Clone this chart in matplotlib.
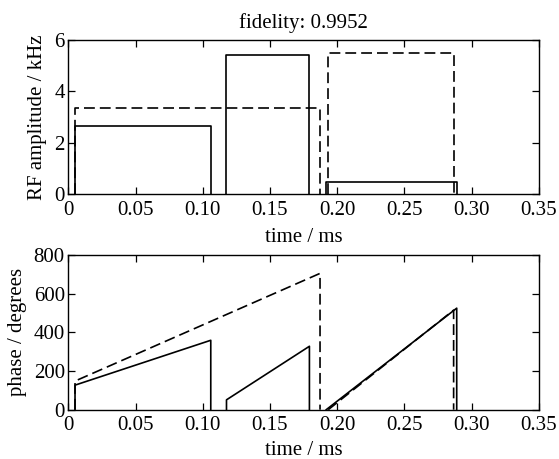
import numpy as np
import matplotlib
matplotlib.use('Agg')
import matplotlib.pyplot as plt

plt.rcParams['font.family'] = ['Liberation Serif', 'DejaVu Serif']
plt.rcParams['mathtext.fontset'] = 'stix'

# pulse timings (ms) and RF amplitudes (kHz)
solid_start = [0.005, 0.1177, 0.1919]
solid_end = [0.106, 0.1794, 0.289]
solid_amp = [2.64, 5.40, 0.47]
dash_start = [0.005, 0.1934]
dash_end = [0.1873, 0.2867]
dash_amp = [3.36, 5.51]

# phase at start and end of each pulse (degrees)
solid_ph0 = [127, 51, 0]
solid_ph1 = [359, 328, 525]
dash_ph0 = [148, 0]
dash_ph1 = [705, 515]

fidelity = 0.9952
xticks = [0, 0.05, 0.10, 0.15, 0.20, 0.25, 0.30, 0.35]
xticklabels = ['0', '0.05', '0.10', '0.15', '0.20', '0.25', '0.30', '0.35']


def steps(t0, t1, y0, y1):
    # build a zig-zag trace: jump up at start, ramp to end, drop back to zero
    xs, ys = [], []
    for a, b, c, d in zip(t0, t1, y0, y1):
        xs += [a, a, b, b, np.nan]
        ys += [0, c, d, 0, np.nan]
    return xs, ys


W, H = 559, 459
fig = plt.figure(figsize=(W / 100, H / 100), dpi=100)
ax1 = fig.add_axes([68.3 / W, 1 - 194.3 / H, 470.4 / W, 154.3 / H])
ax2 = fig.add_axes([68.3 / W, 1 - 409.7 / H, 470.4 / W, 154.7 / H])

fs = 15

x, y = steps(solid_start, solid_end, solid_amp, solid_amp)
ax1.plot(x, y, 'k-', lw=1.2)
x, y = steps(dash_start, dash_end, dash_amp, dash_amp)
ax1.plot(x, y, 'k--', lw=1.2, dashes=(6.5, 3))
ax1.set_ylim(0, 6)
ax1.set_yticks([0, 2, 4, 6])
ax1.set_ylabel('RF amplitude / kHz', fontsize=fs, labelpad=5)
ax1.set_title('fidelity: %.4f' % fidelity, fontsize=fs, pad=8.5)

x, y = steps(solid_start, solid_end, solid_ph0, solid_ph1)
ax2.plot(x, y, 'k-', lw=1.2)
x, y = steps(dash_start, dash_end, dash_ph0, dash_ph1)
ax2.plot(x, y, 'k--', lw=1.2, dashes=(6.5, 3))
ax2.set_ylim(0, 800)
ax2.set_yticks([0, 200, 400, 600, 800])
ax2.set_ylabel('phase / degrees', fontsize=fs, labelpad=5)

ax1.set_xlabel('time / ms', fontsize=fs, labelpad=6)
ax2.set_xlabel('time / ms', fontsize=fs, labelpad=4)

for ax in (ax1, ax2):
    ax.set_xlim(0, 0.35)
    ax.set_xticks(xticks)
    ax.set_xticklabels(xticklabels)
    ax.tick_params(direction='in', top=True, right=True, length=5, width=0.9,
                   labelsize=fs)
    ax.tick_params(axis='x', pad=4.5)
    ax.tick_params(axis='y', pad=2.5)
    for s in ax.spines.values():
        s.set_linewidth(1.0)

fig.savefig('out.png', dpi=100)
